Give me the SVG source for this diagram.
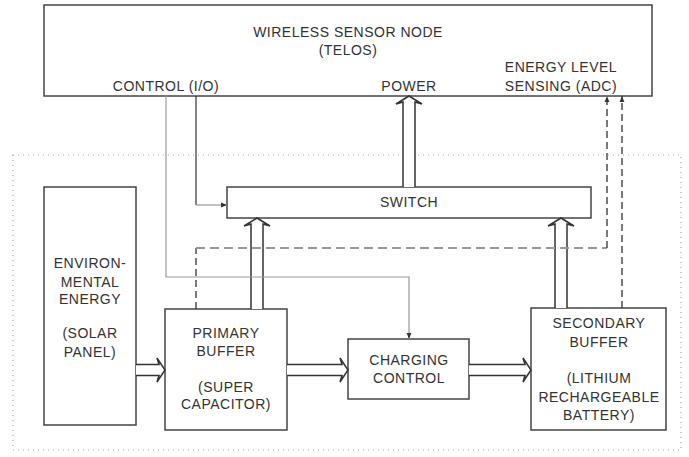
<svg xmlns="http://www.w3.org/2000/svg" width="689" height="457" viewBox="0 0 689 457">
<defs>
<style>
.box{fill:#fff;stroke:#444;stroke-width:1.5}
.t{font-family:"Liberation Sans",Arial,sans-serif;font-size:14px;fill:#333;text-anchor:middle;letter-spacing:0.5px}
.dbl{fill:#fff;stroke:#333;stroke-width:1.5;stroke-linejoin:miter}
.ln{fill:none;stroke:#333;stroke-width:1.2}
.gl{fill:none;stroke:#999;stroke-width:1.2}
.dsh{fill:none;stroke:#333;stroke-width:1.3;stroke-dasharray:7 4}
.gdsh{fill:none;stroke:#999;stroke-width:2;stroke-dasharray:9 5}
</style>
<marker id="ah" viewBox="0 0 10 10" refX="10" refY="5" markerWidth="6" markerHeight="6" markerUnits="userSpaceOnUse" orient="auto">
<path d="M0,1 L10,5 L0,9 Z" fill="#333"/>
</marker>
</defs>
<rect x="0" y="0" width="689" height="457" fill="#fff"/>
<rect id="boundary" x="13" y="155" width="668" height="295" fill="none" stroke="#aaa" stroke-width="1.2" stroke-dasharray="1 4"/>

<g id="wsn">
<rect class="box" x="44" y="5" width="608" height="91"/>
<text class="t" x="348" y="37">WIRELESS SENSOR NODE</text>
<text class="t" x="348" y="55">(TELOS)</text>
<text class="t" x="166" y="91">CONTROL (I/O)</text>
<text class="t" x="409" y="91">POWER</text>
<text class="t" x="561" y="72">ENERGY LEVEL</text>
<text class="t" x="561" y="91">SENSING (ADC)</text>
</g>

<g id="switch">
<rect class="box" x="227" y="187" width="364" height="31"/>
<text class="t" x="409" y="207">SWITCH</text>
</g>

<g id="env">
<rect class="box" x="44" y="187" width="92" height="238"/>
<text class="t" x="90" y="268">ENVIRON-</text>
<text class="t" x="90" y="287">MENTAL</text>
<text class="t" x="90" y="304">ENERGY</text>
<text class="t" x="90" y="338">(SOLAR</text>
<text class="t" x="90" y="357">PANEL)</text>
</g>

<g id="primary">
<rect class="box" x="165" y="309" width="122" height="121"/>
<text class="t" x="226" y="338">PRIMARY</text>
<text class="t" x="226" y="356">BUFFER</text>
<text class="t" x="226" y="392">(SUPER</text>
<text class="t" x="226" y="409">CAPACITOR)</text>
</g>

<g id="charging">
<rect class="box" x="348" y="339" width="121" height="60"/>
<text class="t" x="409" y="365">CHARGING</text>
<text class="t" x="409" y="383">CONTROL</text>
</g>

<g id="secondary">
<rect class="box" x="531" y="308" width="135" height="122"/>
<text class="t" x="599" y="328">SECONDARY</text>
<text class="t" x="599" y="347">BUFFER</text>
<text class="t" x="599" y="383">(LITHIUM</text>
<text class="t" x="599" y="402">RECHARGEABLE</text>
<text class="t" x="599" y="420">BATTERY)</text>
</g>

<g id="connectors">
<!-- energy flow double arrows -->
<path class="dbl" d="M136,364.5 H159 L157,358 L165,370 L157,382 L159,375.5 H136"/>
<path class="dbl" d="M287,364.5 H342 L340,358 L348,370 L340,382 L342,375.5 H287"/>
<path class="dbl" d="M469,364.5 H525 L523,358 L531,370 L523,382 L525,375.5 H469"/>
<path class="dbl" d="M251,309 V224 L244,226 L257,218 L270,226 L263,224 V309"/>
<path class="dbl" d="M555,308 V224 L548,226 L561,218 L574,226 L567,224 V308"/>
<path class="dbl" d="M403,187 V102 L396,104 L409,96 L422,104 L415,102 V187"/>
<!-- control lines -->
<path class="ln" d="M196,96 V205" />
<path class="gl" d="M196,205 H227" marker-end="url(#ah)"/>
<path class="gl" d="M166,96 V277 H409 V339" marker-end="url(#ah)"/>
<!-- energy level sensing -->
<path class="dsh" d="M196,309 V248"/>
<path class="gdsh" d="M196,248 H607"/>
<path class="dsh" d="M607,248 V96" marker-end="url(#ah)"/>
<path class="dsh" d="M622,308 V96" marker-end="url(#ah)"/>
</g>
</svg>
